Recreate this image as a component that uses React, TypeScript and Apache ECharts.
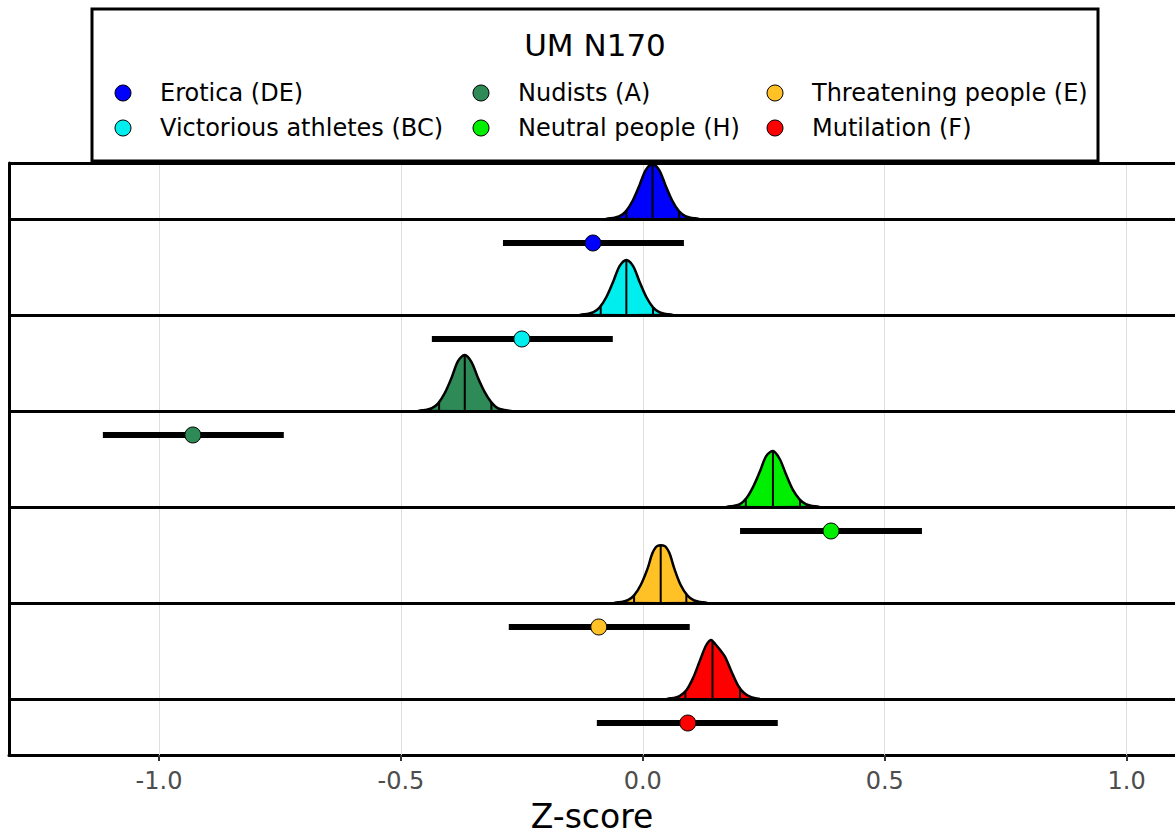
import React, { useEffect, useRef } from "react";
import * as echarts from "echarts";

// ---- data ----
const categories = [
  "Erotica (DE)",
  "Victorious athletes (BC)",
  "Nudists (A)",
  "Neutral people (H)",
  "Threatening people (E)",
  "Mutilation (F)",
];
const colors = ["#0000FF", "#00EEEE", "#2E8B57", "#00EE00", "#FFC125", "#FF0000"];
const baselines = [6, 5, 4, 3, 2, 1];

// point estimate and interval (error bars)
const pointEstimates = [-0.103, -0.25, -0.93, 0.389, -0.091, 0.093];
const intervalLow = [-0.289, -0.436, -1.116, 0.201, -0.277, -0.095];
const intervalHigh = [0.085, -0.062, -0.742, 0.577, 0.097, 0.279];

// quantile lines inside the densities
const quantileLow = [-0.034, -0.087, -0.421, 0.213, -0.018, 0.088];
const quantileMid = [0.02, -0.034, -0.368, 0.269, 0.037, 0.144];
const quantileHigh = [0.075, 0.021, -0.313, 0.325, 0.09, 0.201];

// density outlines (x in Z-score, height in row units)
const densityErotica = {
  x: [-0.076, -0.062, -0.048, -0.035, -0.021, -0.007, 0.006, 0.02, 0.034, 0.047, 0.061, 0.075, 0.088, 0.102, 0.116],
  h: [0, 0.01, 0.03, 0.08, 0.19, 0.35, 0.51, 0.573, 0.51, 0.35, 0.19, 0.08, 0.03, 0.01, 0],
};
const densityVictorious = {
  x: [-0.13, -0.116, -0.102, -0.089, -0.075, -0.061, -0.048, -0.034, -0.02, -0.007, 0.007, 0.021, 0.034, 0.048, 0.062],
  h: [0, 0.01, 0.03, 0.08, 0.19, 0.35, 0.51, 0.573, 0.51, 0.35, 0.19, 0.08, 0.03, 0.01, 0],
};
const densityNudists = {
  x: [-0.464, -0.45, -0.436, -0.423, -0.409, -0.395, -0.382, -0.368, -0.354, -0.341, -0.327, -0.313, -0.3, -0.286, -0.272],
  h: [0, 0.01, 0.03, 0.08, 0.19, 0.35, 0.52, 0.583, 0.51, 0.35, 0.2, 0.09, 0.03, 0.01, 0],
};
const densityNeutral = {
  x: [0.173, 0.187, 0.201, 0.214, 0.228, 0.242, 0.255, 0.269, 0.283, 0.296, 0.31, 0.324, 0.337, 0.351, 0.365],
  h: [0, 0.01, 0.03, 0.09, 0.21, 0.37, 0.53, 0.583, 0.5, 0.34, 0.18, 0.08, 0.03, 0.01, 0],
};
const densityThreatening = {
  x: [-0.059, -0.045, -0.031, -0.018, -0.004, 0.01, 0.02, 0.03, 0.045, 0.055, 0.065, 0.078, 0.092, 0.105, 0.119, 0.133],
  h: [0, 0.01, 0.03, 0.08, 0.19, 0.36, 0.52, 0.594, 0.594, 0.52, 0.36, 0.19, 0.08, 0.03, 0.01, 0],
};
const densityMutilation = {
  x: [0.05, 0.063, 0.076, 0.09, 0.104, 0.118, 0.131, 0.141, 0.15, 0.16, 0.17, 0.183, 0.197, 0.21, 0.224, 0.24],
  h: [0, 0.01, 0.03, 0.09, 0.22, 0.4, 0.56, 0.615, 0.57, 0.51, 0.44, 0.29, 0.14, 0.06, 0.02, 0],
};
const densities = [
  densityErotica,
  densityVictorious,
  densityNudists,
  densityNeutral,
  densityThreatening,
  densityMutilation,
];

const xTicks = [-1, -0.5, 0, 0.5, 1];
const legendTitle = "UM N170";
const axisTitle = "Z-score";

// ---- layout constants ----
const FONT = "DejaVu Sans";
const X_MIN = -1.31;
const X_MAX = 1.1;
const Y_MIN = 0.4167;
const Y_MAX = 6.5833;
const BAR_OFFSET = 0.25;
const legendColX = [123, 481, 775];
const legendRowY = [93, 128];
const LEGEND_ITEM_W = 64;

function interp(xs: number[], hs: number[], q: number): number {
  for (let j = 0; j < xs.length - 1; j++) {
    if (q >= xs[j] && q <= xs[j + 1]) {
      const t = (q - xs[j]) / (xs[j + 1] - xs[j]);
      return hs[j] + t * (hs[j + 1] - hs[j]);
    }
  }
  return 0;
}

export default function App() {
  const ref = useRef<HTMLDivElement>(null);

  useEffect(() => {
    if (!ref.current) return;
    const chart = echarts.init(ref.current, null, { renderer: "svg" });

    const densitySeries = {
      type: "custom",
      name: "densities",
      z: 2,
      clip: false,
      data: categories.map((_, i) => [quantileMid[i], baselines[i], i]),
      encode: { x: 0, y: 1 },
      renderItem: (_params: any, api: any) => {
        const i = api.value(2);
        const base = baselines[i];
        const d = densities[i];
        const pts = d.x.map((x: number, j: number) => api.coord([x, base + d.h[j]]));
        const children: any[] = [
          {
            type: "polygon",
            shape: { points: pts, smooth: 0.3 },
            style: { fill: colors[i], stroke: "#000", lineWidth: 2.5 },
          },
        ];
        [quantileLow[i], quantileMid[i], quantileHigh[i]].forEach((q) => {
          const h = interp(d.x, d.h, q);
          const a = api.coord([q, base]);
          const b = api.coord([q, base + h]);
          children.push({
            type: "line",
            shape: { x1: a[0], y1: a[1], x2: b[0], y2: b[1] },
            style: { stroke: "#000", lineWidth: 2 },
          });
        });
        return { type: "group", children };
      },
    };

    const barSeries = {
      type: "custom",
      name: "intervals",
      z: 4,
      clip: false,
      data: categories.map((_, i) => [intervalLow[i], intervalHigh[i], baselines[i] - BAR_OFFSET]),
      encode: { x: [0, 1], y: 2 },
      renderItem: (_params: any, api: any) => {
        const a = api.coord([api.value(0), api.value(2)]);
        const b = api.coord([api.value(1), api.value(2)]);
        return {
          type: "line",
          shape: { x1: a[0], y1: a[1], x2: b[0], y2: b[1] },
          style: { stroke: "#000", lineWidth: 6 },
        };
      },
    };

    const pointSeries = categories.map((name, i) => ({
      type: "scatter",
      name,
      z: 5,
      symbol: "circle",
      symbolSize: 16,
      itemStyle: { color: colors[i], borderColor: "#000", borderWidth: 1, opacity: 1 },
      data: [[pointEstimates[i], baselines[i] - BAR_OFFSET]],
    }));

    const gridSeries = {
      type: "line",
      name: "gridlines",
      z: 1,
      data: [],
      markLine: {
        z: 1,
        silent: true,
        symbol: ["none", "none"],
        label: { show: false },
        lineStyle: { color: "#DEDEDE", width: 1, type: "solid" },
        data: xTicks.map((v) => ({ xAxis: v })),
      },
    };

    const baselineSeries = {
      type: "line",
      name: "baselines",
      z: 3,
      data: [],
      markLine: {
        z: 3,
        silent: true,
        symbol: ["none", "none"],
        label: { show: false },
        lineStyle: { color: "#000", width: 3, type: "solid" },
        data: [...baselines, Y_MAX].map((v) => ({ yAxis: v })),
      },
    };

    const legends = categories.map((name, i) => ({
      data: [name],
      left: legendColX[Math.floor(i / 2)] - 13.5,
      top: legendRowY[i % 2] - 17,
      icon: "circle",
      itemWidth: LEGEND_ITEM_W,
      itemHeight: 16,
      itemStyle: { borderColor: "#000", borderWidth: 1 },
      textStyle: { fontFamily: FONT, fontSize: 24, color: "#000" },
      z: 10,
    }));

    chart.setOption({
      animation: false,
      backgroundColor: "#fff",
      textStyle: { fontFamily: FONT },
      grid: {
        left: 9,
        right: 0,
        top: 163,
        bottom: 80,
        containLabel: false,
        outerBoundsMode: "none",
      },
      xAxis: {
        type: "value",
        min: X_MIN,
        max: X_MAX,
        name: axisTitle,
        nameLocation: "middle",
        nameGap: 45,
        nameTextStyle: { fontFamily: FONT, fontSize: 33, color: "#000" },
        axisLine: { show: true, onZero: false, lineStyle: { color: "#000", width: 3 } },
        axisTick: { show: true, customValues: xTicks, length: 6, lineStyle: { color: "#333", width: 2 } },
        axisLabel: {
          customValues: xTicks,
          formatter: (v: number) => v.toFixed(1),
          fontFamily: FONT,
          fontSize: 24,
          color: "#4D4D4D",
          margin: 14,
        },
        splitLine: { show: false },
      },
      yAxis: {
        type: "value",
        min: Y_MIN,
        max: Y_MAX,
        axisLine: { show: true, onZero: false, lineStyle: { color: "#000", width: 3 } },
        axisTick: { show: false },
        axisLabel: { show: false },
        splitLine: { show: false },
      },
      legend: legends,
      graphic: [
        {
          type: "rect",
          z: 6,
          shape: { x: 92, y: 9, width: 1006, height: 152 },
          style: { fill: "#fff", stroke: "#000", lineWidth: 3 },
        },
        {
          type: "text",
          z: 7,
          x: 595,
          y: 45,
          style: {
            text: legendTitle,
            fontFamily: FONT,
            fontSize: 31,
            fill: "#000",
            textAlign: "center",
            textVerticalAlign: "middle",
          },
        },
      ],
      series: [gridSeries, densitySeries, baselineSeries, barSeries, ...pointSeries],
    });

    return () => chart.dispose();
  }, []);

  return (
    <div
      ref={ref}
      style={{ position: "absolute", left: 0, top: 0, width: 1175, height: 835 }}
    />
  );
}
